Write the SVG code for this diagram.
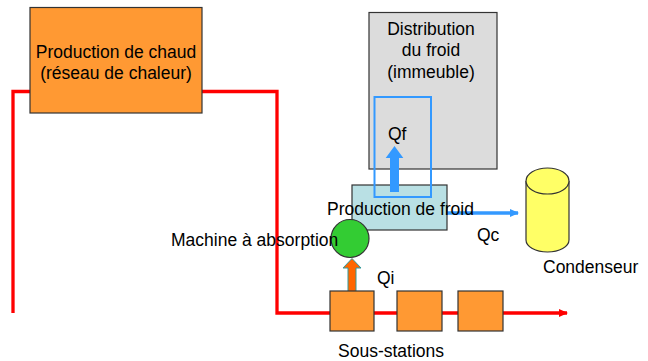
<svg xmlns="http://www.w3.org/2000/svg" width="648" height="361" viewBox="0 0 648 361">
<defs>
<style>
text{font-family:"Liberation Sans",Arial,sans-serif;font-size:17.5px;fill:#000}
.c{text-anchor:middle}
.box{stroke:#333;stroke-width:1.2}
.red{fill:none;stroke:#ff0000;stroke-width:3.3}
</style>
<marker id="ra" markerWidth="10" markerHeight="10" refX="8" refY="4" orient="auto" markerUnits="userSpaceOnUse"><path d="M0,0 L9,4 L0,8 z" fill="#ff0000"/></marker>
<marker id="ba" markerWidth="10" markerHeight="10" refX="8" refY="4" orient="auto" markerUnits="userSpaceOnUse"><path d="M0,0 L9,4 L0,8 z" fill="#3399ff"/></marker>
</defs>
<rect width="648" height="361" fill="#fff"/>
<g id="connectors">
<path class="red" d="M13,313 V91.5 H277 V313 H567" marker-end="url(#ra)"/>
<line x1="447" y1="213" x2="518" y2="213" stroke="#3399ff" stroke-width="3.5" marker-end="url(#ba)"/>
</g>
<g id="chaud">
<rect class="box" x="30" y="7.5" width="172" height="105.5" fill="#ff9933"/>
<text class="c" x="116" y="58">Production de chaud</text>
<text class="c" x="116" y="79">(réseau de chaleur)</text>
</g>
<g id="distribution">
<rect class="box" x="369" y="12.5" width="128" height="156.5" fill="#dcdcdc"/>
<text class="c" x="431" y="35">Distribution</text>
<text class="c" x="431" y="56">du froid</text>
<text class="c" x="431" y="78">(immeuble)</text>
</g>
<g id="production-froid">
<rect class="box" x="352" y="185" width="95" height="45" fill="#b9e0e4"/>
<rect x="374.5" y="97" width="56.5" height="100" fill="none" stroke="#3399ff" stroke-width="2"/>
<path d="M390,192 V158 H385.7 L394.5,146 L403.3,158 H399 V192 z" fill="#3399ff"/>
<text x="388" y="140">Qf</text>
<text class="c" x="400.5" y="215">Production de froid</text>
</g>
<g id="condenseur">
<path class="box" d="M526,181 V240 A21.5,12 0 0 0 569,240 V181" fill="#ffff66"/>
<ellipse class="box" cx="547.5" cy="181" rx="21.5" ry="13" fill="#ffff66"/>
<text x="543" y="273">Condenseur</text>
<text x="477" y="241">Qc</text>
</g>
<g id="machine">
<circle class="box" cx="350" cy="238.5" r="19" fill="#33cc33"/>
<text x="171" y="246">Machine à absorption</text>
</g>
<g id="qi">
<path d="M348,292 V268 H343 L352,258.5 L361,268 H356 V292 z" fill="#ff6600" stroke="#339999" stroke-width="1"/>
<text x="377" y="284">Qi</text>
</g>
<g id="sous-stations">
<rect class="box" x="330" y="291" width="44" height="40" fill="#ff9933"/>
<rect class="box" x="397" y="291" width="45" height="40" fill="#ff9933"/>
<rect class="box" x="458" y="291" width="45" height="40" fill="#ff9933"/>
<text x="338" y="357">Sous-stations</text>
</g>
</svg>
